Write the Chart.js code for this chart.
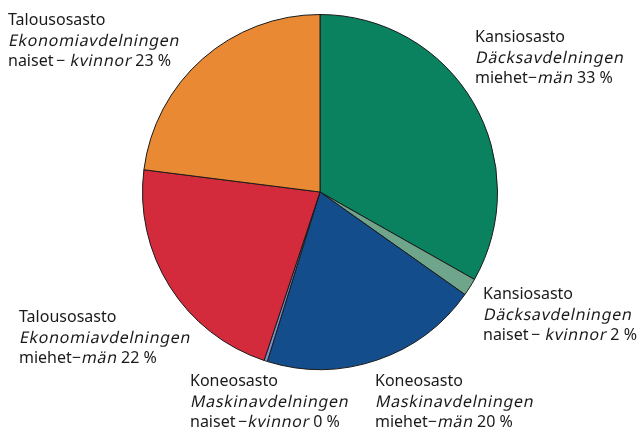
<!DOCTYPE html>
<html>
<head>
<meta charset="utf-8">
<script src="https://cdn.jsdelivr.net/npm/chart.js@4.4.1/dist/chart.umd.min.js"></script>
<style>
  html, body { margin: 0; padding: 0; background: #fff; }
  #wrap { width: 641px; height: 436px; }
</style>
</head>
<body>
<div id="wrap"><canvas id="pie" width="641" height="436"></canvas></div>
<script>
const departments = ['Kansiosasto', 'Kansiosasto', 'Koneosasto', 'Koneosasto', 'Talousosasto', 'Talousosasto'];
const departmentsSv = ['Däcksavdelningen', 'Däcksavdelningen', 'Maskinavdelningen', 'Maskinavdelningen', 'Ekonomiavdelningen', 'Ekonomiavdelningen'];
const genders = ['miehet', 'naiset', 'miehet', 'naiset', 'miehet', 'naiset'];
const gendersSv = ['män', 'kvinnor', 'män', 'kvinnor', 'män', 'kvinnor'];
const shares = [33.2, 1.6, 20.0, 0.3, 21.9, 23.0];
const shareLabels = ['33 %', '2 %', '20 %', '0 %', '22 %', '23 %'];
const colors = ['#0a8260', '#6fa68b', '#134d8b', '#7b8fc8', '#d32b3c', '#e98934'];

// label placement: left x and first baseline, plus dash style
const labelPos = [
    { x: 475, y: 42, sep: '\u2212' },
    { x: 483, y: 299, sep: '\u2009\u2212 ' },
    { x: 375, y: 386, sep: '\u2212' },
    { x: 190, y: 386, sep: '\u2009\u2212' },
    { x: 19, y: 322, sep: '\u2212' },
    { x: 8, y: 25, sep: '\u2009\u2212 ' }
];

const FONT = "'Noto Sans', 'Open Sans', sans-serif";

// italic is drawn as an oblique of the upright face, like the original
function drawRuns(ctx, x, y, runs) {
    runs.forEach(r => {
        ctx.font = '16px ' + FONT;
        ctx.letterSpacing = r.italic ? '0.7px' : '0px';
        if (r.italic) {
            ctx.save();
            ctx.translate(x, y);
            ctx.transform(1, 0, -0.21, 1, 0, 0);
            ctx.fillText(r.text, 0, 0);
            ctx.restore();
        } else {
            ctx.fillText(r.text, x, y);
        }
        x += ctx.measureText(r.text).width;
    });
}

const labelPlugin = {
    id: 'sliceLabels',
    afterDraw(chart) {
        const ctx = chart.ctx;
        ctx.save();
        ctx.fillStyle = '#1a1a1a';
        ctx.textBaseline = 'alphabetic';
        ctx.textAlign = 'left';
        shares.forEach((v, i) => {
            const p = labelPos[i];
            const lh = 20.5;
            drawRuns(ctx, p.x, p.y, [{ text: departments[i] }]);
            drawRuns(ctx, p.x, p.y + lh, [{ text: departmentsSv[i], italic: true }]);
            drawRuns(ctx, p.x, p.y + lh * 2, [
                { text: genders[i] + p.sep },
                { text: gendersSv[i], italic: true },
                { text: ' ' + shareLabels[i] }
            ]);
        });
        ctx.restore();
    }
};

new Chart(document.getElementById('pie'), {
    type: 'pie',
    data: {
        labels: departments.map((d, i) => d + ' ' + genders[i]),
        datasets: [{
            data: shares,
            backgroundColor: colors,
            borderColor: '#1a1a1a',
            borderWidth: 1
        }]
    },
    options: {
        responsive: false,
        animation: false,
        layout: {
            padding: { top: 14, bottom: 66, left: 142, right: 143 }
        },
        plugins: {
            legend: { display: false },
            tooltip: { enabled: false }
        }
    },
    plugins: [labelPlugin]
});
</script>
</body>
</html>
